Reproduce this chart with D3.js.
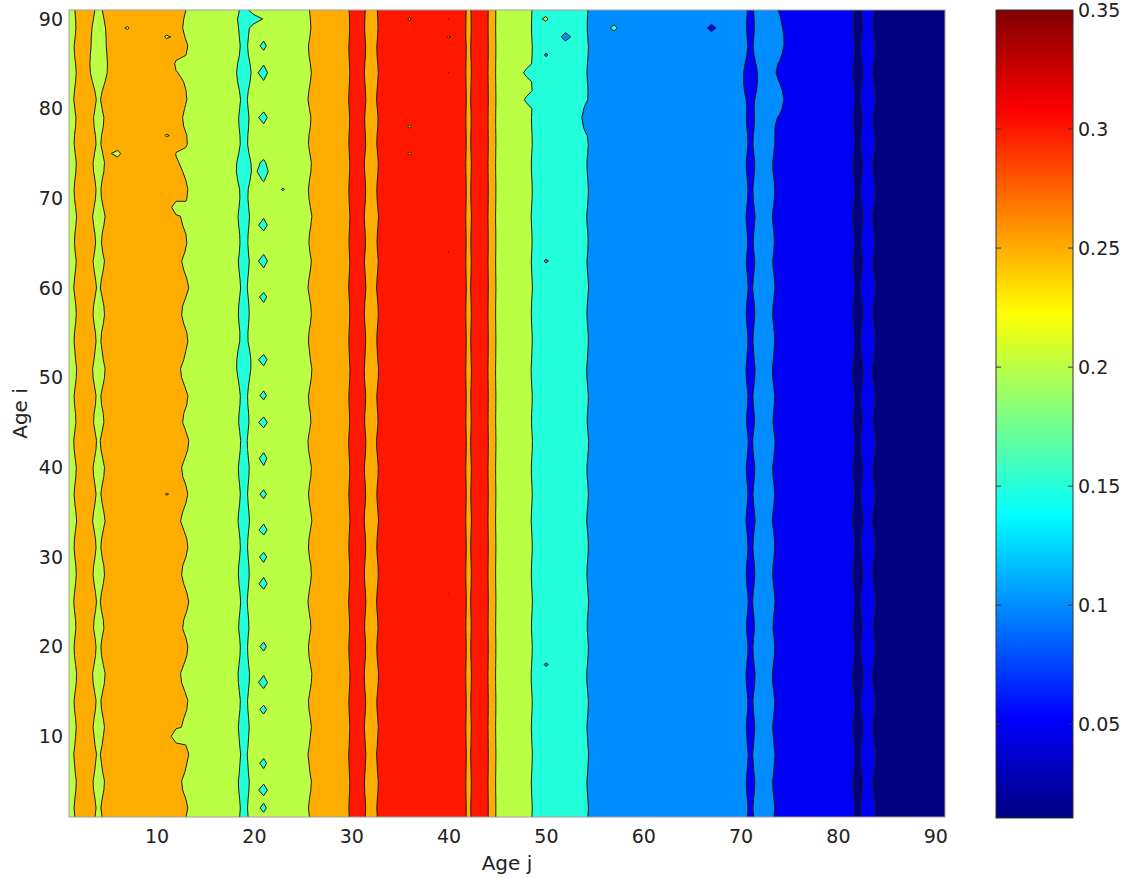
<!DOCTYPE html>
<html>
<head>
<meta charset="utf-8">
<script src="https://cdn.jsdelivr.net/npm/d3@7"></script>
<style>
  body { margin: 0; background: #fff; }
  text { font-family: "DejaVu Sans", "Liberation Sans", Arial, sans-serif; }
</style>
</head>
<body>
<svg id="chart" width="1145" height="878"></svg>
<script>
// grid axes (Age j across, Age i up)
const ageJ = d3.range(1, 92);
const ageI = d3.range(1, 92);

// value of each column j
const colProfile = [
  0.236, 0.258, 0.260, 0.244, 0.257, 0.272, 0.278, 0.282, 0.284, 0.283,
  0.278, 0.259, 0.249, 0.238, 0.232, 0.226, 0.220, 0.209, 0.191, 0.212,
  0.210, 0.220, 0.228, 0.235, 0.241, 0.253, 0.268, 0.280, 0.288, 0.303,
  0.305, 0.293, 0.303, 0.315, 0.320, 0.325, 0.330, 0.336, 0.343, 0.349,
  0.330, 0.292, 0.318, 0.304, 0.240, 0.232, 0.222, 0.212, 0.190, 0.182,
  0.176, 0.171, 0.166, 0.154, 0.140, 0.134, 0.131, 0.128, 0.126, 0.125,
  0.124, 0.123, 0.122, 0.121, 0.120, 0.119, 0.118, 0.116, 0.113, 0.108,
  0.096, 0.107, 0.104, 0.094, 0.088, 0.083, 0.078, 0.073, 0.067, 0.062,
  0.057, 0.046, 0.055, 0.048, 0.040, 0.035, 0.030, 0.025, 0.020, 0.016,
  0.012
];

// row to row jitter of the field, in thousandths
const rowWobble = [
  1, 3, 1, -2, -3, 0, 2, 4, 1, -1,
  -3, -1, 2, 3, 0, -3, -4, -1, 2, 3,
  1, -2, -1, 2, 4, 2, -1, -3, -2, 1,
  3, 2, -1, -4, -2, 1, 3, 1, -2, -3,
  0, 3, 4, 1, -2, -1, 2, 3, 0, -3,
  -4, -1, 1, 3, 2, -1, -3, -2, 1, 4,
  2, -1, -3, 0, 2, 1, -2, -4, -1, 2,
  3, 1, -2, -3, 0, 3, 2, -1, -2, 1,
  4, 2, -1, -3, -1, 2, 3, 0, -2, -1,
  1
];
// how strongly the jitter shows, from column j onward
const wobbleGain = [[1, 0.8], [8, 1.1], [15, 0.6], [29, 0.25], [46, 0.35]];

// local islands: [j, i, delta, radius j, radius i]
const spots = [
  [4, 86, -0.02, 0.9, 2.5], [7, 89, -0.032, 0.7, 0.4], [9, 86, -0.032, 0.4, 1.0],
  [11, 88, -0.035, 0.35, 0.4], [11, 77, -0.035, 0.3, 0.3], [12, 69, -0.03, 0.45, 0.45],
  [12, 85, -0.012, 0.8, 1.0], [12, 81, -0.012, 0.8, 1.0], [12, 75, -0.01, 0.8, 1.0],
  [12, 10, -0.035, 0.5, 0.5], [11, 37, -0.035, 0.3, 0.3], [6, 75, -0.035, 0.3, 0.3],
  [20, 90, -0.022, 1.0, 0.6], [19, 73, -0.012, 0.8, 1.5], [19, 52, -0.01, 0.8, 1.5],
  [19, 84, -0.01, 0.7, 1.5],
  [21, 87, -0.02, 0.45, 0.7], [21, 84, -0.02, 0.45, 1.0], [21, 79, -0.02, 0.45, 0.8],
  [21, 73, -0.025, 0.5, 1.2], [21, 67, -0.02, 0.45, 0.8], [21, 63, -0.02, 0.45, 0.9],
  [21, 59, -0.02, 0.45, 0.7], [21, 52, -0.02, 0.45, 0.7], [21, 48, -0.02, 0.45, 0.7],
  [21, 45, -0.02, 0.45, 0.7], [21, 41, -0.02, 0.45, 0.9], [21, 37, -0.02, 0.45, 0.7],
  [21, 33, -0.02, 0.45, 0.7], [21, 30, -0.02, 0.45, 0.7], [21, 27, -0.02, 0.45, 0.8],
  [21, 20, -0.02, 0.45, 0.7], [21, 16, -0.02, 0.45, 0.8], [21, 13, -0.02, 0.45, 0.6],
  [21, 7, -0.02, 0.45, 0.8], [21, 4, -0.02, 0.45, 0.7], [21, 2, -0.02, 0.45, 0.6],
  [23, 71, -0.035, 0.3, 0.3],
  [40, 88, -0.055, 0.6, 0.7], [40, 90, -0.05, 0.4, 0.4], [40, 84, -0.05, 0.3, 0.3],
  [36, 75, -0.03, 0.3, 0.3], [36, 78, -0.03, 0.3, 0.3], [36, 90, -0.03, 0.3, 0.3],
  [40, 64, -0.05, 0.3, 0.5], [40, 26, -0.05, 0.3, 0.3],
  [48, 84, -0.02, 0.3, 0.3], [48, 81, -0.02, 0.3, 0.3], [50, 86, -0.04, 0.3, 0.6],
  [52, 88, -0.04, 0.4, 0.4], [50, 63, -0.04, 0.3, 0.3], [50, 18, -0.04, 0.3, 0.3],
  [50, 90, 0.025, 0.4, 0.3], [54, 79, -0.01, 0.6, 1.5],
  [57, 89, 0.03, 0.6, 0.3], [67, 89, -0.03, 0.5, 0.4], [71, 83, -0.012, 0.6, 2.0],
  [74, 88, 0.012, 1.0, 3.0], [74, 81, 0.01, 1.0, 2.5]
];

const levels = [0.05, 0.1, 0.15, 0.2, 0.25, 0.3];
const xTicks = [10, 20, 30, 40, 50, 60, 70, 80, 90];
const yTicks = [10, 20, 30, 40, 50, 60, 70, 80, 90];
const colorTicks = [0.05, 0.1, 0.15, 0.2, 0.25, 0.3, 0.35];

const svg = d3.select('#chart');
const plot = { left: 69, top: 10, right: 945, bottom: 817 };
const bar = { left: 996, right: 1073, top: 10, bottom: 818 };

const xScale = d3.scaleLinear().domain([1, 91]).range([plot.left, plot.right]);
const yScale = d3.scaleLinear().domain([1, 91]).range([plot.bottom, plot.top]);

// build the field
const gainFor = j => wobbleGain.filter(g => g[0] <= j).pop()[1];
const n = ageJ.length, m = ageI.length;
const grid = new Array(n * m);
ageI.forEach((i, r) => {
  ageJ.forEach((j, c) => {
    let v = colProfile[c] + rowWobble[r] * 0.001 * gainFor(j);
    spots.forEach(([sj, si, d, rj, ri]) => {
      const dj = (j - sj) / rj, di = (i - si) / ri;
      v += d * Math.exp(-(dj * dj + di * di));
    });
    grid[r * n + c] = v;
  });
});

const [cmin, cmax] = d3.extent(grid);

// matlab jet colormap
const clamp = x => Math.max(0, Math.min(1, x));
const jet = t => d3.rgb(
  255 * clamp(1.5 - Math.abs(4 * t - 3)),
  255 * clamp(1.5 - Math.abs(4 * t - 2)),
  255 * clamp(1.5 - Math.abs(4 * t - 1))
).toString();
const color = d3.scaleSequential(jet).domain([cmin, cmax]);

const defs = svg.append('defs');
defs.append('clipPath').attr('id', 'clip')
  .append('rect')
  .attr('x', plot.left).attr('y', plot.top)
  .attr('width', plot.right - plot.left).attr('height', plot.bottom - plot.top);

const contours = d3.contours().size([n, m]).thresholds(levels)(grid);

// contour grid coordinate x -> age (x + 0.5)
const proj = d3.geoTransform({
  point(x, y) { this.stream.point(xScale(x + 0.5), yScale(y + 0.5)); }
});
const path = d3.geoPath(proj);

const g = svg.append('g').attr('clip-path', 'url(#clip)');

g.append('rect')
  .attr('x', plot.left).attr('y', plot.top)
  .attr('width', plot.right - plot.left).attr('height', plot.bottom - plot.top)
  .attr('fill', color(cmin));

g.selectAll('path.band')
  .data(contours)
  .enter()
  .append('path')
  .attr('class', 'band')
  .attr('d', path)
  .attr('fill', d => color(d.value));

g.selectAll('path.line')
  .data(contours)
  .enter()
  .append('path')
  .attr('class', 'line')
  .attr('d', path)
  .attr('fill', 'none')
  .attr('stroke', '#1c1c10')
  .attr('stroke-width', 1);

svg.append('rect')
  .attr('x', plot.left).attr('y', plot.top)
  .attr('width', plot.right - plot.left).attr('height', plot.bottom - plot.top)
  .attr('fill', 'none')
  .attr('stroke', '#a0a0a0')
  .attr('stroke-width', 1);

// axes
const xAxis = svg.append('g')
  .attr('transform', `translate(0, ${plot.bottom})`)
  .call(d3.axisBottom(xScale).tickValues(xTicks).tickSize(0).tickPadding(13));
const yAxis = svg.append('g')
  .attr('transform', `translate(${plot.left}, 0)`)
  .call(d3.axisLeft(yScale).tickValues(yTicks).tickSize(0).tickPadding(6));
[xAxis, yAxis].forEach(a => {
  a.select('.domain').remove();
  a.selectAll('text')
    .attr('font-size', '19px')
    .attr('font-family', '"DejaVu Sans", "Liberation Sans", Arial, sans-serif')
    .attr('fill', '#222');
});

svg.append('text')
  .attr('x', (plot.left + plot.right) / 2)
  .attr('y', 870)
  .attr('text-anchor', 'middle')
  .attr('font-size', '20px')
  .attr('fill', '#222')
  .text('Age j');

svg.append('text')
  .attr('transform', `translate(27, ${(plot.top + plot.bottom) / 2}) rotate(-90)`)
  .attr('text-anchor', 'middle')
  .attr('font-size', '20px')
  .attr('fill', '#222')
  .text('Age i');

// colorbar, smooth jet ramp from cmin (bottom) to cmax (top)
const cScale = d3.scaleLinear().domain([cmin, cmax]).range([bar.bottom, bar.top]);
const grad = defs.append('linearGradient')
  .attr('id', 'jet')
  .attr('x1', 0).attr('y1', 1).attr('x2', 0).attr('y2', 0);
grad.selectAll('stop')
  .data(d3.range(0, 33))
  .enter()
  .append('stop')
  .attr('offset', k => k / 32)
  .attr('stop-color', k => jet(k / 32));

svg.append('rect')
  .attr('x', bar.left).attr('y', bar.top)
  .attr('width', bar.right - bar.left).attr('height', bar.bottom - bar.top)
  .attr('fill', 'url(#jet)')
  .attr('stroke', '#333')
  .attr('stroke-width', 1);

const barTicks = svg.append('g');
colorTicks.filter(t => t < cmax).forEach(t => {
  barTicks.append('line')
    .attr('x1', bar.left).attr('x2', bar.left + 5)
    .attr('y1', cScale(t)).attr('y2', cScale(t))
    .attr('stroke', '#333');
  barTicks.append('line')
    .attr('x1', bar.right - 5).attr('x2', bar.right)
    .attr('y1', cScale(t)).attr('y2', cScale(t))
    .attr('stroke', '#333');
});

const cAxis = svg.append('g')
  .attr('transform', `translate(${bar.right}, 0)`)
  .call(d3.axisRight(cScale).tickValues(colorTicks).tickSize(0).tickPadding(5)
    .tickFormat(d3.format('.2~f')));
cAxis.select('.domain').remove();
cAxis.selectAll('text')
  .attr('font-size', '19px')
  .attr('font-family', '"DejaVu Sans", "Liberation Sans", Arial, sans-serif')
  .attr('fill', '#222');
</script>
</body>
</html>
